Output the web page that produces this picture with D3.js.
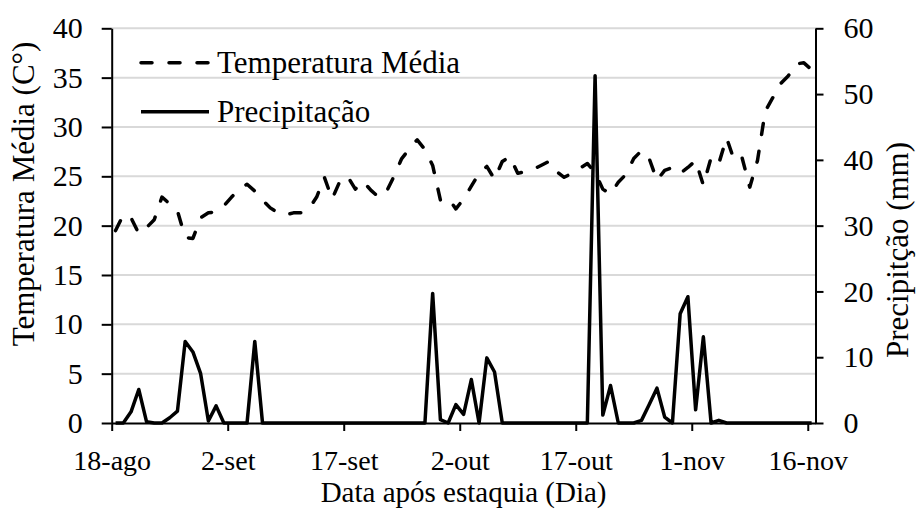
<!DOCTYPE html>
<html>
<head>
<meta charset="utf-8">
<script src="https://cdn.jsdelivr.net/npm/d3@7"></script>
<style>
  html, body { margin: 0; padding: 0; background: #ffffff; }
  svg { display: block; }
  text { font-family: "Liberation Serif", "Times New Roman", serif; fill: #000; }
</style>
</head>
<body>
<svg id="chart" width="919" height="509"></svg>
<script>
// ---------------- DATA ----------------
const startDate = new Date(Date.UTC(2019, 7, 18));   // 18-ago
const endDate   = new Date(Date.UTC(2019, 10, 17));  // axis end (day after 16-nov)
const dates = d3.utcDay.range(startDate, endDate);   // 91 daily categories 18-ago .. 16-nov

const temperatura = [
  19.5, 21.1, 20.8, 19.2, 19.8, 20.6, 22.9, 22.2, 21.5, 18.8,
  18.7, 20.8, 21.3, 21.4, 22.0, 22.9, 23.7, 24.2, 23.5, 22.6,
  21.8, 21.3, 21.1, 21.3, 21.3, 21.7, 22.9, 24.9, 22.7, 24.5,
  25.0, 23.7, 24.5, 23.6, 22.9, 23.4, 25.0, 26.8, 27.8, 28.7,
  27.7, 26.1, 22.6, 22.8, 21.7, 22.7, 24.0, 25.3, 26.0, 24.7,
  26.5, 27.0, 25.3, 25.5, 25.7, 26.1, 26.5, 25.5, 24.9, 25.3,
  25.8, 26.3, 25.4, 23.7, 23.2, 24.4, 25.2, 26.8, 27.6, 26.8,
  24.6, 25.6, 25.9, 25.3, 25.9, 26.6, 24.1, 26.9, 26.3, 28.9,
  26.6, 26.9, 23.9, 26.6, 31.6, 33.0, 34.4, 35.2, 36.4, 36.5,
  35.8
];

const precipitacao = [
  0, 0, 1.7, 5.1, 0.2, 0, 0, 0.8, 1.8, 12.4,
  10.8, 7.5, 0.3, 2.6, 0, 0, 0, 0, 12.4, 0,
  0, 0, 0, 0, 0, 0, 0, 0, 0, 0,
  0, 0, 0, 0, 0, 0, 0, 0, 0, 0,
  0, 19.7, 0.5, 0, 2.8, 1.3, 6.6, 0, 9.9, 7.75,
  0, 0, 0, 0, 0, 0, 0, 0, 0, 0,
  0, 0, 52.8, 1.2, 5.7, 0, 0, 0, 0.4, 2.8,
  5.3, 0.9, 0, 16.6, 19.2, 2.0, 13.1, 0, 0.4, 0,
  0, 0, 0, 0, 0, 0, 0, 0, 0, 0,
  0
];

const xTickDates = [
  new Date(Date.UTC(2019, 7, 18)), new Date(Date.UTC(2019, 8, 2)),
  new Date(Date.UTC(2019, 8, 17)), new Date(Date.UTC(2019, 9, 2)),
  new Date(Date.UTC(2019, 9, 17)), new Date(Date.UTC(2019, 10, 1)),
  new Date(Date.UTC(2019, 10, 16))
];
const xTickLabels = ["18-ago", "2-set", "17-set", "2-out", "17-out", "1-nov", "16-nov"];
const leftTicks  = [0, 5, 10, 15, 20, 25, 30, 35, 40];
const rightTicks = [0, 10, 20, 30, 40, 50, 60];

const seriesNames = ["Temperatura Média", "Precipitação"];
const xTitle = "Data após estaquia (Dia)";
const yLeftTitle = "Temperatura Média (C°)";
const yRightTitle = "Precipitção (mm)";

// ---------------- LAYOUT ----------------
const svg = d3.select("#chart");
const plot = { left: 111.7, right: 815.5, top: 28.3, bottom: 423 };

const x = d3.scaleUtc().domain([startDate, endDate]).range([plot.left, plot.right]);
const yL = d3.scaleLinear().domain([0, 40]).range([plot.bottom, plot.top]);
const yR = d3.scaleLinear().domain([0, 60]).range([plot.bottom, plot.top]);
const mid = d => d3.utcHour.offset(d, 12);   // points centred between tick marks

// gridlines
svg.append("g")
  .selectAll("line")
  .data(leftTicks.filter(t => t > 0))
  .join("line")
  .attr("x1", plot.left).attr("x2", plot.right)
  .attr("y1", d => yL(d)).attr("y2", d => yL(d))
  .attr("stroke", "#d9d9d9").attr("stroke-width", 2);

// lines
const tempData = dates.map((d, i) => ({ d, v: temperatura[i] }));
const precData = dates.map((d, i) => ({ d, v: precipitacao[i] }));

svg.append("path")
  .datum(precData)
  .attr("fill", "none").attr("stroke", "#000").attr("stroke-width", 3.5)
  .attr("stroke-linejoin", "round")
  .attr("d", d3.line().x(p => x(mid(p.d))).y(p => yR(p.v)));

svg.append("path")
  .datum(tempData)
  .attr("fill", "none").attr("stroke", "#000").attr("stroke-width", 3.5)
  .attr("stroke-linecap", "round").attr("stroke-linejoin", "round")
  .attr("stroke-dasharray", "11,17")
  .attr("d", d3.line().x(p => x(mid(p.d))).y(p => yL(p.v)));

// axes
function styleAxis(g, size) {
  g.select(".domain").attr("stroke", "#000").attr("stroke-width", 2);
  g.selectAll(".tick line").attr("stroke", "#000").attr("stroke-width", 2);
  g.selectAll(".tick text").style("font-family", '"Liberation Serif", serif').style("font-size", size + "px");
}

svg.append("g")
  .attr("transform", `translate(${plot.left},0)`)
  .call(d3.axisLeft(yL).tickValues(leftTicks).tickSize(10).tickSizeOuter(0).tickPadding(19))
  .call(g => styleAxis(g, 30));

svg.append("g")
  .attr("transform", `translate(${plot.right},0)`)
  .call(d3.axisRight(yR).tickValues(rightTicks).tickSize(8).tickSizeOuter(0).tickPadding(20))
  .call(g => styleAxis(g, 30));

svg.append("g")
  .attr("transform", `translate(0,${plot.bottom})`)
  .call(d3.axisBottom(x).tickValues(xTickDates).tickSize(8).tickSizeOuter(0).tickPadding(19)
        .tickFormat((d, i) => xTickLabels[i]))
  .call(g => styleAxis(g, 28));

// titles
svg.append("text")
  .attr("x", (plot.left + plot.right) / 2).attr("y", 502)
  .attr("text-anchor", "middle").style("font-size", "29px")
  .text(xTitle);

svg.append("text")
  .attr("transform", "translate(34,194) rotate(-90)")
  .attr("text-anchor", "middle").style("font-size", "31px")
  .text(yLeftTitle);

svg.append("text")
  .attr("transform", "translate(908,250) rotate(-90)")
  .attr("text-anchor", "middle").style("font-size", "31px")
  .text(yRightTitle);

// legend
const legend = svg.append("g");
const legendRows = [
  { name: seriesNames[0], y: 62.7, dash: "11,17", textY: 73.3 },
  { name: seriesNames[1], y: 111.7, dash: null, textY: 121.7 }
];
legendRows.forEach(r => {
  const ln = legend.append("line")
    .attr("x1", 141).attr("x2", 209).attr("y1", r.y).attr("y2", r.y)
    .attr("stroke", "#000").attr("stroke-width", 3.5);
  if (r.dash) ln.attr("stroke-dasharray", r.dash).attr("stroke-linecap", "round");
  legend.append("text").attr("x", 217).attr("y", r.textY)
    .style("font-size", "31px").text(r.name);
});
</script>
</body>
</html>
